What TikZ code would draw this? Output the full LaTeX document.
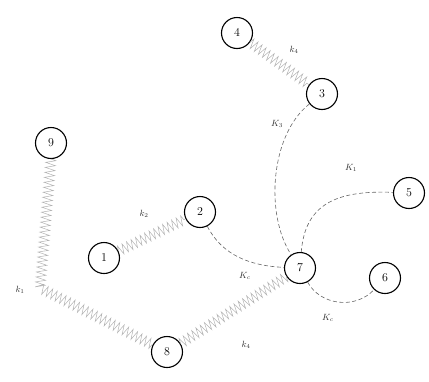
\documentclass[tikz,border=0pt]{standalone}
\usetikzlibrary{decorations.pathmorphing}
\begin{document}
\begin{tikzpicture}[x=1pt,y=-1pt,
  mass/.style={circle,draw,line width=1.1pt,minimum size=31pt,inner sep=0pt,font=\large},
  spring/.style={draw=gray!60,line width=0.5pt,decorate,
    decoration={zigzag,segment length=5pt,amplitude=5pt}},
  damper/.style={draw=gray!80!black,line width=0.6pt,dash pattern=on 4pt off 2.5pt},
  lbl/.style={font=\small,text=black!80,inner sep=1pt}]
\useasboundingbox (0,0) rectangle (429,381);
% masses
\node[mass] (n4) at (237,33) {$4$};
\node[mass] (n3) at (322,94) {$3$};
\node[mass] (n9) at (51,143) {$9$};
\node[mass] (n2) at (200,212) {$2$};
\node[mass] (n5) at (409,193) {$5$};
\node[mass] (n1) at (104,258) {$1$};
\node[mass] (n7) at (300,268) {$7$};
\node[mass] (n6) at (385,278) {$6$};
\node[mass] (n8) at (167,352) {$8$};
\coordinate (bend) at (40,288);
% springs
\draw[spring] (n4) -- (n3);
\draw[spring] (n1) -- (n2);
\draw[spring] (n9.south) -- (bend) -- (n8);
\draw[spring] (n8) -- (n7);
% dampers
\draw[damper] (n3) .. controls (270,135) and (265,215) .. (n7);
\draw[damper] (n7) .. controls (305,205) and (335,190) .. (n5);
\draw[damper] (n2) .. controls (222,255) and (250,266) .. (n7);
\draw[damper] (n7) .. controls (320,305) and (355,310) .. (n6);
% labels
\node[lbl] (l43) at (294,50) {$k_4$};
\node[lbl] (l37) at (277,124) {$K_3$};
\node[lbl] (l75) at (351,168) {$K_1$};
\node[lbl] (l27) at (245,276) {$K_c$};
\node[lbl] (l76) at (328,318) {$K_c$};
\node[lbl] (l12) at (144,214) {$k_2$};
\node[lbl] (l98) at (20,290) {$k_1$};
\node[lbl] (l87) at (246,345) {$k_4$};
\end{tikzpicture}
\end{document}
